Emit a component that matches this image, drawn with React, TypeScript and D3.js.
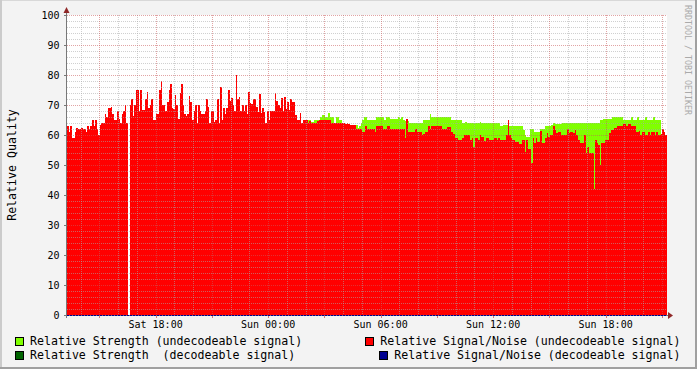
import React from "react";
import * as d3 from "d3";

const W = 697;
const H = 369;

// time axis: hours since Sat 00:00
const startHour = 13.275;
const spanHours = 32;
const stepHours = 5 / 60;

const xMinorHours = d3.range(14, 46, 1);
const xMajorHours = [15, 18, 21, 24, 27, 30, 33, 36, 39, 42, 45];
const xLabelHours = [18, 24, 30, 36, 42];
const xLabels = ["Sat 18:00", "Sun 00:00", "Sun 06:00", "Sun 12:00", "Sun 18:00"];

const yMajorTicks = [0, 10, 20, 30, 40, 50, 60, 70, 80, 90, 100];
const yMinorTicks = d3.range(2, 100, 2).filter((v) => v % 10 !== 0);

// Relative Signal/Noise (undecodeable signal), 5-minute samples
const snUndecodeable: (number | null)[] = [
  63, 61, 63, 59, 59, 61, 62.5, 62, 62, 62.5, 62, 62, 61, 63, 62, 63, 65, 63, 65, 62,
  60, 63.5, 64, 64, 67, 66, 69, 69, 69.5, 67, 65, 65, 68, 65.5, 64, 67, 68, 70, 64, null,
  70, 72, 66.5, 70, 75, 75, 68, 75, 68.5, 68.5, 72, 74.5, 69, 70, 72, 65, 65, 67, 67, 75,
  78, 70, 70, 68, 71, 75, 77, 69, 68.7, 73.5, 70, 65.5, 74, 77, 70, 67, 66.5, 67, 73, 71,
  65, 68, 70, 64, 70, 68, 67, 67, 68, 72, 69.5, 64, 68, 68, 64.5, 65, 72, 64, 76, 65,
  69, 67, 69, 75, 71.5, 72.5, 70, 68, 80, 72, 72.7, 68, 70, 68, 70, 67, 74.5, 70.6, 70.3, 72,
  72, 69.4, 67.8, 73.7, 67.2, 68.9, 67.8, 64.1, 67.9, 65, 67.9, 67.9, 67.9, 73.9, 71.2, 70.1, 68.9, 72.3, 68.1, 72.6,
  68.6, 71, 68.3, 71.9, 71, 71, 66.6, 65, 65, 67.2, 64.1, 65, 65, 65, 64, 64.8, 64, 64, 64, 64.1,
  64.8, 65, 65, 65, 65, 65, 65, 65, 65, 64.1, 64.1, 64.1, 64.1, 64.1, 64.1, 64.1, 64.1, 63.9, 63.7, 64.1,
  63.7, 63.2, 63.2, 63.2, 63.2, 62.1, 62.1, 62.1, 62, 61, 61, 63, 62.1, 62, 61.9, 61.9, 61.9, 61, 63, 63,
  63, 63, 61.9, 61.9, 61.9, 63, 63, 61.9, 61.9, 61.9, 61.9, 61.9, 61.9, 61.9, 61.9, 61.9, 59.1, 65.5, 61, 61,
  61, 61, 61, 61.9, 61, 61, 61, 60, 60.5, 61, 61, 63, 61.9, 63, 63, 63, 63, 63, 63, 63,
  61.9, 61.9, 61.9, 62.8, 62.8, 62.8, 61, 60.5, 58.9, 58.9, 58.3, 58.3, 58.3, 58.9, 60, 60, 60, 60, 58.3, 59.1,
  56.1, 59.1, 59.1, 58.3, 60, 59.4, 59.4, 58, 59.1, 59.1, 58.3, 58.3, 58.3, 59.1, 59.1, 58.2, 59.1, 58.2, 58.2, 58.2,
  58.2, 60, 65, 60, 59, 58.3, 58.3, 57.8, 57.8, 56.9, 56.9, 58.2, 58.2, 54.4, 58.2, 55.2, 55.2, 50.8, 58.9, 57.2,
  58.9, 57.8, 57.8, 61.4, 57.2, 57.2, 58.9, 60.8, 59.2, 60, 60, 63, 61.7, 60.8, 61, 61, 60, 60, 60, 60,
  61.9, 60.6, 61, 61, 60.6, 61.7, 60, 58.3, 57.4, 57.4, 57.2, 60, 53.9, 56.1, 53.9, 53.9, 53.9, 41.9, 58.3, 57.2,
  56.7, 50, 57.4, 57.4, 58.2, 58.2, 58.2, 60.6, 61.7, 61.7, 62.2, 62.2, 63, 63, 63, 63, 63.7, 63.7, 63, 63.7,
  63.7, 63, 63, 63, 61, 61, 61.5, 60.1, 61, 61, 60.1, 60.1, 61, 60.1, 61, 61, 60.1, 61, 60.1, 60.1,
  60.5, 61.9, 61, 60,
];

// Relative Strength (undecodeable signal): values from sample index 152 on (earlier ones lie under the S/N area)
const strengthStartIndex = 152;
const strengthUndecodeable: number[] = [
  65, 64, 65, 65, 64.5, 64.2, 65, 65, 65, 65, 65.9, 66.7, 66.7, 65.9, 65.9, 67.2, 65.9, 65.9, 65.9, 64.1,
  65.9, 65.9, 65, 65, 64.1, 63.9, 63.7, 64.1, 63.7, 63.2, 63.2, 63.2, 63.2, 63.2, 62.5, 63, 64, 65, 65.9, 65.9,
  65, 65, 65, 65, 65, 65, 65.9, 65.9, 65.9, 65.9, 65.9, 65, 65.9, 65.9, 65.9, 65.2, 65.2, 65.2, 65.2, 65.2,
  65.9, 65.2, 65.9, 65, 64.8, 64.8, 64.8, 63.9, 63.9, 63.9, 63.9, 63.9, 63.9, 63.9, 63.9, 63.9, 65, 65, 65, 65,
  67, 65.9, 65.9, 65.9, 65.9, 65.9, 65.9, 65.9, 65.9, 65.9, 65.9, 65.9, 65.9, 65.9, 65, 65, 65, 65, 65, 65,
  65, 63.9, 63.9, 64.5, 63.9, 63.9, 63.9, 63.9, 63.9, 63.9, 63.9, 63.9, 64.5, 63.9, 63.9, 63.9, 63.9, 63.9, 63.9, 63.9,
  63.9, 63.9, 63.9, 63.9, 63.9, 63, 63, 63.3, 63.3, 63.3, 65, 63, 63, 63, 63, 63, 63, 63, 63, 63,
  61.7, 60, 59.2, 59.2, 61.9, 61.9, 61.9, 61, 61, 61, 61, 61.9, 61.9, 61.9, 63, 63, 63, 63, 63.5, 63.9,
  63.7, 63.7, 63.7, 63.7, 63.7, 63.9, 63.9, 63.9, 63.9, 63.9, 63.9, 63.9, 63.9, 63.9, 63.9, 63.9, 63.9, 63.9, 63.9, 63.9,
  63.9, 63.9, 63.9, 63.9, 63.9, 63.9, 63.9, 63.9, 63.9, 65, 65, 65.2, 65.2, 65.2, 65.2, 65.2, 65.2, 65.9, 65.9, 65.9,
  65.9, 65.9, 65.9, 65.9, 65, 65, 65, 65, 65, 65.9, 65, 65, 65, 65.9, 65, 65, 65, 65, 65.9, 65,
  65, 65, 65, 65.9, 65, 65, 65, 65,
];

const legendLeft = [
  { color: "#80ff00", label: "Relative Strength (undecodeable signal)" },
  { color: "#006400", label: "Relative Strength  (decodeable signal)" },
];
const legendRight = [
  { color: "#ff0000", label: "Relative Signal/Noise (undecodeable signal)" },
  { color: "#000090", label: "Relative Signal/Noise (decodeable signal)" },
];

const FONT = "'DejaVu Sans Mono', monospace";

type Pt = { t: number; v: number | null };

function stepPoints(values: (number | null)[], offset: number): Pt[] {
  const pts: Pt[] = [];
  values.forEach((v, k) => {
    const i = k + offset;
    const t0 = startHour + i * stepHours;
    const t1 = startHour + (i + 1) * stepHours;
    if (v == null) {
      pts.push({ t: t0, v: null });
    } else {
      pts.push({ t: t0, v });
      pts.push({ t: t1, v });
    }
  });
  return pts;
}

export default function App() {
  const x = d3.scaleLinear().domain([startHour, startHour + spanHours]).range([67, 667]);
  const y = d3.scaleLinear().domain([0, 100]).range([315, 15]);

  const area = d3
    .area<Pt>()
    .defined((d) => d.v != null)
    .x((d) => x(d.t))
    .y0(y(0))
    .y1((d) => y(d.v as number));

  const redPath = area(stepPoints(snUndecodeable, 0)) || "";
  const greenPath = area(stepPoints(strengthUndecodeable, strengthStartIndex)) || "";

  const left = 67;
  const right = 667;
  const top = y(100);
  const bottom = y(0);

  return (
    <svg
      width={W}
      height={H}
      style={{ position: "absolute", left: 0, top: 0 }}
      xmlns="http://www.w3.org/2000/svg"
    >
      <rect x={0} y={0} width={W} height={H} fill="#f3f3f3" />
      <rect x={0} y={0} width={W} height={1} fill="#d8d8d8" />
      <rect x={0} y={0} width={2} height={H} fill="#cbcbcb" />
      <rect x={W - 2} y={0} width={2} height={H} fill="#a0a0a0" />
      <rect x={0} y={H - 2} width={W} height={2} fill="#a0a0a0" />

      {/* canvas */}
      <rect x={left} y={top} width={right - left} height={bottom - top} fill="#ffffff" />

      {/* data */}
      <path d={greenPath} fill="#80ff00" shapeRendering="crispEdges" />
      <path d={redPath} fill="#ff0000" shapeRendering="crispEdges" />

      {/* grid */}
      <g shapeRendering="crispEdges">
        {yMinorTicks.map((v) => (
          <line key={"ym" + v} x1={left} x2={right} y1={Math.round(y(v)) + 0.5} y2={Math.round(y(v)) + 0.5}
            stroke="rgba(170,170,170,0.55)" strokeDasharray="1,1" />
        ))}
        {xMinorHours.filter((h) => !xMajorHours.includes(h)).map((h) => (
          <line key={"xm" + h} y1={top} y2={bottom} x1={Math.round(x(h)) + 0.5} x2={Math.round(x(h)) + 0.5}
            stroke="rgba(170,170,170,0.55)" strokeDasharray="1,1" />
        ))}
        {yMajorTicks.filter((v) => v > 0).map((v) => (
          <line key={"yM" + v} x1={left} x2={right} y1={Math.round(y(v)) + 0.5} y2={Math.round(y(v)) + 0.5}
            stroke="rgba(200,90,90,0.55)" strokeDasharray="1,1" />
        ))}
        {xMajorHours.map((h) => (
          <line key={"xM" + h} y1={top} y2={bottom} x1={Math.round(x(h)) + 0.5} x2={Math.round(x(h)) + 0.5}
            stroke="rgba(200,90,90,0.55)" strokeDasharray="1,1" />
        ))}
        {/* y ticks */}
        {yMajorTicks.map((v) => (
          <line key={"yt" + v} x1={left - 3} x2={left} y1={Math.round(y(v)) + 0.5} y2={Math.round(y(v)) + 0.5} stroke="#777" />
        ))}
        {yMinorTicks.map((v) => (
          <line key={"ytm" + v} x1={left - 1} x2={left} y1={Math.round(y(v)) + 0.5} y2={Math.round(y(v)) + 0.5} stroke="#aaa" />
        ))}
        {/* x ticks */}
        {xMajorHours.map((h) => (
          <line key={"xt" + h} y1={bottom} y2={bottom + 3} x1={Math.round(x(h)) + 0.5} x2={Math.round(x(h)) + 0.5} stroke="rgba(200,90,90,0.8)" />
        ))}
        {xMinorHours.map((h) => (
          <line key={"xtm" + h} y1={bottom} y2={bottom + 1} x1={Math.round(x(h)) + 0.5} x2={Math.round(x(h)) + 0.5} stroke="#bbb" />
        ))}
        {/* axes */}
        <line x1={left - 0.5} x2={left - 0.5} y1={12} y2={bottom + 3} stroke="#777" />
        <line x1={left - 3} x2={right + 2} y1={bottom + 0.5} y2={bottom + 0.5} stroke="#777" />
        <line x1={left} x2={right - 1} y1={bottom + 0.5} y2={bottom + 0.5} stroke="#000090" strokeDasharray="2,1" />
      </g>

      {/* arrows */}
      <path d={`M${left - 3.5},13 L${left + 2.5},13 L${left - 0.5},7 Z`} fill="#902828" />
      <path d={`M${right + 1},${bottom - 3} L${right + 1},${bottom + 4} L${right + 6},${bottom + 0.5} Z`} fill="#902828" />

      {/* y labels */}
      {yMajorTicks.map((v) => (
        <text key={"yl" + v} x={59.5} y={y(v) + 3.6} textAnchor="end" fontFamily={FONT} fontSize={10} fill="#000">
          {v}
        </text>
      ))}
      <text
        transform={`translate(15.5,${165}) rotate(-90)`}
        textAnchor="middle"
        fontFamily={FONT}
        fontSize={11.6}
        fill="#000"
      >
        Relative Quality
      </text>

      {/* x labels */}
      {xLabelHours.map((h, k) => (
        <text key={"xl" + h} x={x(h)} y={328.3} textAnchor="middle" fontFamily={FONT} fontSize={10} fill="#000">
          {xLabels[k]}
        </text>
      ))}

      {/* watermark */}
      <text
        transform={`translate(685,5) rotate(90)`}
        fontFamily={FONT}
        fontSize={8.3}
        fill="#aaaaaa"
      >
        RRDTOOL / TOBI OETIKER
      </text>

      {/* legend */}
      {legendLeft.map((l, k) => (
        <g key={"ll" + k}>
          <rect x={15.5} y={337.5 + k * 14} width={8} height={8} fill={l.color} stroke="#000" />
          <text x={30} y={345 + k * 14} fontFamily={FONT} fontSize={11.6} fill="#000" style={{ whiteSpace: "pre" }}>
            {l.label}
          </text>
        </g>
      ))}
      {legendRight.map((l, k) => (
        <g key={"lr" + k}>
          <rect x={(k === 0 ? 365.5 : 379.5)} y={337.5 + k * 14} width={8} height={8} fill={l.color} stroke="#000" />
          <text x={k === 0 ? 380.3 : 394.3} y={345 + k * 14} fontFamily={FONT} fontSize={11.6} fill="#000" style={{ whiteSpace: "pre" }}>
            {l.label}
          </text>
        </g>
      ))}
    </svg>
  );
}
